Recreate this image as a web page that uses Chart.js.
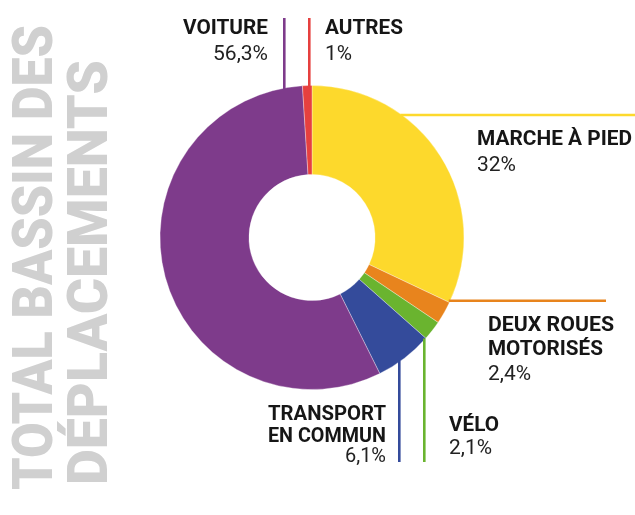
<!DOCTYPE html>
<html>
<head>
<meta charset="utf-8">
<script src="https://cdn.jsdelivr.net/npm/chart.js@4"></script>
<style>
  html, body { margin: 0; padding: 0; background: #ffffff; }
  canvas { display: block; }
</style>
</head>
<body>
<canvas id="c" width="635" height="515"></canvas>
<script>
// ---- data ----
const categories = ['Marche à pied', 'Deux roues motorisés', 'Vélo', 'Transport en commun', 'Voiture', 'Autres'];
const shares = [32, 2.4, 2.1, 6.1, 56.3, 1];
const nameLines = [['MARCHE À PIED'], ['DEUX ROUES', 'MOTORISÉS'], ['VÉLO'], ['TRANSPORT', 'EN COMMUN'], ['VOITURE'], ['AUTRES']];
const percentLabels = ['32%', '2,4%', '2,1%', '6,1%', '56,3%', '1%'];
const sliceColors = ['#FDD92C', '#E8841D', '#6AB42F', '#344B9B', '#7E3B8B', '#E6403F'];
const sideTitle = ['TOTAL BASSIN DES', 'DÉPLACEMENTS'];

// ---- layout of annotations (positions only) ----
const leaders = [
  { dir: 'h', at: 115, to: 635 },
  { dir: 'h', at: 300.7, to: 606 },
  { dir: 'v', at: 424.3, to: 462 },
  { dir: 'v', at: 399.3, to: 462 },
  { dir: 'v', at: 284.3, to: 18 },
  { dir: 'v', at: 309.3, to: 18 }
];
const labelLayout = [
  { x: 477, align: 'left',  base: [145, 171], widths: [155], pw: 39 },
  { x: 488, align: 'left',  base: [330.5, 355, 380], widths: [126, 115], pw: 43 },
  { x: 449, align: 'left',  base: [430.5, 454], widths: [50], pw: 43 },
  { x: 386, align: 'right', base: [420, 441.5, 462], widths: [118, 118], pw: 41 },
  { x: 268, align: 'right', base: [34, 59.5], widths: [85], pw: 55 },
  { x: 325, align: 'left',  base: [34, 59.5], widths: [78], pw: 27 }
];

function fitText(ctx, text, x, y, width, capH, weight, align, color) {
  const size = capH / 0.711;
  ctx.save();
  ctx.font = weight + ' ' + size + 'px Roboto';
  ctx.textBaseline = 'alphabetic';
  ctx.textAlign = align;
  const w = ctx.measureText(text).width;
  ctx.translate(x, y);
  ctx.scale(width / w, 1);
  ctx.fillStyle = color;
  ctx.fillText(text, 0, 0);
  ctx.restore();
}

const annotations = {
  id: 'annotations',
  afterDraw(chart) {
    const ctx = chart.ctx;
    const arcs = chart.getDatasetMeta(0).data;
    // side title, rotated
    const titleBase = [[51.7, 490, 465], [106.7, 485, 425]];
    sideTitle.forEach((t, i) => {
      ctx.save();
      ctx.translate(titleBase[i][0], titleBase[i][1]);
      ctx.rotate(-Math.PI / 2);
      fitText(ctx, t, 0, 0, titleBase[i][2], 39, '900', 'left', '#D0D0D0');
      ctx.restore();
    });

    arcs.forEach((arc, i) => {
      const cx = arc.x, cy = arc.y, R = arc.outerRadius;
      const L = leaders[i];
      ctx.save();
      ctx.strokeStyle = sliceColors[i];
      ctx.lineWidth = 2.6;
      ctx.beginPath();
      if (L.dir === 'h') {
        const dx = Math.sqrt(Math.max(R * R - (L.at - cy) * (L.at - cy), 0));
        const x0 = cx + dx - 1.5;
        ctx.moveTo(x0, L.at);
        ctx.lineTo(L.to, L.at);
      } else {
        const dy = Math.sqrt(Math.max(R * R - (L.at - cx) * (L.at - cx), 0));
        const y0 = L.to < cy ? cy - dy + 1.5 : cy + dy - 1.5;
        ctx.moveTo(L.at, y0);
        ctx.lineTo(L.at, L.to);
      }
      ctx.stroke();
      ctx.restore();

      const lay = labelLayout[i];
      nameLines[i].forEach((line, k) => {
        fitText(ctx, line, lay.x, lay.base[k], lay.widths[k], 14.8, '700', lay.align, '#161616');
      });
      fitText(ctx, percentLabels[i], lay.x, lay.base[nameLines[i].length], lay.pw, 15, '400', lay.align, '#222222');
    });
  }
};

new Chart(document.getElementById('c'), {
  type: 'doughnut',
  data: {
    labels: categories,
    datasets: [{
      data: shares,
      backgroundColor: sliceColors,
      borderColor: 'rgba(255,255,255,0.55)',
      borderWidth: 0.6,
      hoverOffset: 0,
      offset: 0
    }]
  },
  options: {
    responsive: false,
    animation: false,
    radius: 152,
    cutout: '41.5%',
    rotation: 0,
    layout: { padding: { left: 0, top: 0, right: 11, bottom: 40 } },
    plugins: { legend: { display: false }, tooltip: { enabled: false } },
    events: []
  },
  plugins: [annotations]
});
</script>
</body>
</html>
